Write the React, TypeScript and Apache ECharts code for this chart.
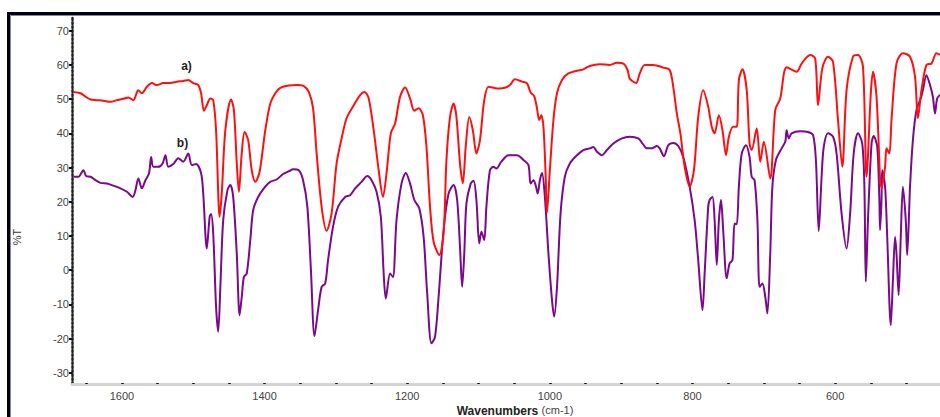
import React, { useEffect, useRef } from "react";
import * as echarts from "echarts";

// Spectrum a) (red): wavenumber (cm-1) and %T
const waveA = [
  1668, 1658, 1651, 1644, 1635, 1626, 1616, 1607, 1598, 1591, 1584, 1577, 1572, 1565, 1558, 1551, 1542, 1532, 1523, 1514,
  1507, 1500, 1493, 1489, 1485, 1481, 1476, 1472, 1468, 1463, 1460, 1455, 1447, 1443, 1439, 1436, 1432, 1428, 1423, 1418,
  1413, 1407, 1399, 1392, 1385, 1378, 1366, 1355, 1345, 1338, 1332, 1327, 1320, 1313, 1306, 1299, 1292, 1285, 1275, 1266,
  1260, 1254, 1247, 1240, 1234, 1229, 1223, 1217, 1210, 1203, 1196, 1190, 1184, 1178, 1173, 1168, 1163, 1155, 1149, 1145,
  1140, 1135, 1131, 1126, 1122, 1118, 1113, 1108, 1103, 1098, 1092, 1086, 1079, 1071, 1063, 1056, 1049, 1039, 1032, 1027,
  1022, 1018, 1015, 1012, 1009, 1006, 1004, 1000, 995, 990, 983, 974, 962, 953, 944, 930, 916, 906, 897, 891,
  888, 879, 874, 867, 855, 841, 832, 827, 822, 817, 811, 804, 798, 792, 785, 778, 773, 769, 763, 758,
  753, 749, 743, 738, 735, 730, 724, 720, 717, 710, 705, 700, 691, 684, 677, 668, 654, 647, 635, 628,
  624, 618, 610, 603, 596, 590, 584, 575, 568, 561, 556, 550, 547, 542, 535, 530, 528, 524, 521, 514,
  505, 495, 488, 484, 479, 472, 465, 458, 453,
];
const pctA = [
  52.1, 51.7, 50.7, 49.9, 49.7, 49.5, 49.2, 49.7, 50.1, 50.5, 49.7, 52.6, 51.7, 53.6, 54.7, 54.1, 54.7, 54.7, 55.1, 55.3,
  55.6, 54.7, 54.1, 51.7, 46.6, 48.2, 50.2, 49.7, 40.9, 15.6, 22.5, 40.9, 49.9, 46.8, 31.3, 22.9, 34.2, 40.4, 38.0, 29.2,
  25.8, 28.7, 40.9, 48.7, 51.7, 53.3, 54.0, 54.1, 53.8, 52.1, 47.3, 34.1, 18.5, 11.5, 16.6, 31.2, 38.5, 44.4, 48.2, 51.2,
  52.1, 50.2, 40.9, 29.2, 21.4, 28.3, 40.0, 42.9, 50.7, 53.4, 50.2, 46.6, 47.3, 45.3, 36.0, 18.5, 8.3, 4.4, 10.7, 32.2,
  44.8, 48.7, 44.8, 31.2, 25.4, 36.0, 44.8, 40.9, 34.1, 38.0, 49.7, 53.6, 53.3, 53.1, 53.3, 54.1, 55.8, 55.1, 54.6, 51.9,
  50.9, 47.3, 43.9, 45.3, 41.9, 28.3, 16.8, 29.2, 43.9, 51.7, 55.6, 57.5, 58.3, 58.7, 59.7, 60.2, 60.0, 60.6, 60.4, 58.5,
  56.0, 54.7, 57.5, 60.0, 60.0, 59.2, 58.5, 53.6, 45.8, 40.0, 30.2, 24.4, 29.2, 44.8, 52.6, 47.8, 41.9, 40.0, 45.3, 40.9,
  33.6, 39.0, 41.9, 41.9, 55.6, 58.7, 52.6, 37.0, 35.1, 41.4, 31.7, 37.5, 26.8, 46.8, 50.2, 59.3, 58.0, 60.4, 62.9, 61.9,
  48.2, 59.0, 62.4, 60.9, 43.9, 30.2, 52.6, 62.4, 62.9, 59.5, 27.3, 51.7, 58.0, 50.7, 23.9, 30.2, 35.6, 34.1, 43.9, 60.4,
  63.4, 62.4, 56.5, 44.4, 52.6, 60.0, 60.4, 63.4, 62.9,
];

// Spectrum b) (purple): wavenumber (cm-1) and %T
const waveB = [
  1668, 1661, 1654, 1650, 1644, 1637, 1630, 1621, 1612, 1602, 1593, 1585, 1581, 1577, 1572, 1567, 1562, 1559, 1556, 1549,
  1543, 1539, 1535, 1528, 1521, 1514, 1507, 1502, 1496, 1489, 1486, 1481, 1477, 1475, 1472, 1468, 1465, 1462, 1458, 1452,
  1448, 1444, 1439, 1435, 1432, 1429, 1425, 1420, 1416, 1409, 1399, 1392, 1383, 1374, 1365, 1360, 1352, 1346, 1340, 1335,
  1330, 1325, 1320, 1315, 1311, 1304, 1297, 1287, 1280, 1273, 1264, 1256, 1250, 1243, 1237, 1233, 1230, 1224, 1220, 1215,
  1208, 1202, 1196, 1190, 1183, 1177, 1172, 1166, 1161, 1156, 1149, 1142, 1135, 1130, 1126, 1123, 1120, 1117, 1111, 1107,
  1103, 1099, 1096, 1092, 1089, 1084, 1079, 1075, 1068, 1058, 1046, 1037, 1030, 1027, 1023, 1020, 1017, 1014, 1011, 1007,
  1002, 997, 994, 990, 985, 979, 972, 962, 953, 944, 939, 934, 927, 920, 911, 899, 888, 876, 870, 864,
  857, 850, 846, 840, 834, 827, 820, 813, 804, 797, 792, 786, 783, 778, 776, 772, 769, 766, 763, 760,
  757, 752, 748, 744, 741, 738, 735, 731, 725, 720, 717, 713, 709, 706, 702, 698, 695, 691, 688, 683,
  675, 670, 668, 665, 661, 649, 638, 631, 627, 623, 619, 616, 610, 603, 598, 591, 584, 579, 574, 568,
  562, 559, 557, 554, 549, 546, 541, 538, 537, 535, 534, 530, 527, 522, 519, 516, 514, 511, 508, 505,
  501, 499, 495, 491, 486, 480, 477, 472, 467, 463, 460, 457, 453,
];
const pctB = [
  27.3, 27.3, 29.2, 27.5, 27.3, 26.3, 25.5, 25.3, 24.7, 23.9, 22.9, 21.4, 23.4, 26.8, 23.9, 26.3, 28.3, 33.1, 30.2, 30.2,
  31.2, 33.6, 30.2, 31.0, 32.7, 31.7, 34.1, 30.7, 31.0, 28.3, 22.4, 6.3, 15.6, 16.4, 10.7, -10.7, -18.0, -4.9, 14.6, 23.4,
  24.9, 21.4, 4.9, -13.2, -7.8, -2.0, -1.0, 8.8, 17.5, 21.4, 24.4, 25.8, 26.5, 28.1, 29.0, 29.5, 29.2, 26.3, 18.5, 0.0,
  -19.3, -11.7, -4.9, -3.9, 2.9, 12.7, 18.5, 21.4, 21.9, 23.9, 25.8, 27.5, 26.3, 22.9, 15.6, -1.0, -8.3, -1.0, -2.0, 14.6,
  25.3, 28.4, 25.3, 20.5, 18.0, 9.7, -6.8, -21.4, -19.5, -7.8, 11.7, 22.4, 24.9, 20.5, 6.8, -4.9, 4.9, 19.5, 25.3, 26.1,
  20.5, 7.8, 11.2, 8.8, 18.5, 29.2, 30.2, 29.7, 31.7, 33.6, 33.6, 32.2, 30.7, 25.3, 26.3, 24.9, 22.4, 26.3, 28.4, 21.4,
  4.9, -8.8, -13.6, -4.9, 16.6, 27.3, 31.2, 33.6, 35.1, 35.6, 36.0, 34.6, 33.6, 35.1, 37.0, 38.5, 39.0, 38.5, 37.0, 35.6,
  35.6, 36.3, 35.6, 33.3, 36.5, 37.2, 36.3, 33.1, 24.4, 14.6, 2.9, -11.7, -1.0, 18.5, 20.5, 21.4, 14.6, 1.5, 14.6, 20.5,
  11.7, -2.4, 2.0, 2.9, 13.6, 13.4, 24.4, 34.1, 36.5, 33.1, 27.3, 26.3, 14.6, -4.9, -3.9, -7.8, -12.7, 4.9, 24.4, 32.2,
  35.6, 37.5, 40.9, 38.5, 40.0, 40.6, 40.4, 39.5, 32.2, 11.4, 27.3, 36.0, 40.0, 39.0, 34.1, 16.6, 6.3, 16.6, 34.1, 40.0,
  37.0, 24.4, -3.4, 14.6, 37.0, 39.2, 36.0, 20.5, 11.7, 20.5, 29.2, 24.4, 9.7, -16.1, -2.9, 9.7, 4.9, -7.3, 9.7, 24.4,
  14.6, 4.4, 24.4, 38.0, 46.8, 50.2, 52.6, 57.0, 54.1, 50.7, 45.8, 50.2, 51.2,
];

const xLabelValues = [1600, 1400, 1200, 1000, 800, 600];
const xTickValues = [1650, 1600, 1550, 1500, 1450, 1400, 1350, 1300, 1250, 1200, 1150, 1100, 1050, 1000, 950, 900, 850, 800, 750, 700, 650, 600, 550, 500];
const yLabelValues = [-30, -20, -10, 0, 10, 20, 30, 40, 50, 60, 70];

const FONT = "'Liberation Sans', Arial, sans-serif";

export default function App() {
  const ref = useRef<HTMLDivElement>(null);
  useEffect(() => {
    if (!ref.current) return;
    const chart = echarts.init(ref.current, null, { renderer: "svg" });
    const dataA = waveA.map((w, i) => [w, pctA[i]]);
    const dataB = waveB.map((w, i) => [w, pctB[i]]);
    chart.setOption({
      animation: false,
      backgroundColor: "#ffffff",
      grid: { left: 72, top: 16, right: 0, bottom: 33, containLabel: false },
      xAxis: {
        type: "value",
        inverse: true,
        min: 453,
        max: 1670,
        splitLine: { show: false },
        axisLine: { show: true, onZero: false, lineStyle: { color: "#d4d4d4", width: 3 } },
        axisTick: {
          show: true,
          customValues: xTickValues,
          inside: true,
          length: 1,
          lineStyle: { color: "#111", width: 2.5 },
        },
        axisLabel: {
          customValues: xLabelValues,
          formatter: (v: number) => String(v),
          margin: 6,
          color: "#444",
          fontSize: 11,
          fontFamily: FONT,
        },
      },
      yAxis: {
        type: "value",
        min: -33.3,
        max: 74.3,
        splitLine: { show: false },
        axisLine: { show: true, onZero: false, lineStyle: { color: "#222", width: 2.5, type: [2, 2] } },
        axisTick: {
          show: true,
          customValues: yLabelValues,
          length: 3,
          lineStyle: { color: "#111", width: 2 },
        },
        axisLabel: {
          customValues: yLabelValues,
          formatter: (v: number) => String(v),
          margin: 3,
          color: "#444",
          fontSize: 11,
          fontFamily: FONT,
        },
      },
      series: [
        {
          name: "a)",
          type: "line",
          data: dataA,
          smooth: 0.3,
          symbol: "none",
          lineStyle: { color: "#ff1010", width: 2 },
          z: 3,
        },
        {
          name: "b)",
          type: "line",
          data: dataB,
          smooth: 0.3,
          symbol: "none",
          lineStyle: { color: "#7a0a8a", width: 2 },
          z: 2,
        },
      ],
      graphic: [
        {
          type: "rect",
          shape: { x: 8.5, y: 13.5, width: 1000, height: 600 },
          style: { fill: "none", stroke: "#000", lineWidth: 3 },
          silent: true,
        },
        {
          type: "rect",
          shape: { x: 10.5, y: 15.5, width: 1000, height: 600 },
          style: { fill: "none", stroke: "#8080cc", lineWidth: 1 },
          silent: true,
        },
        {
          type: "text",
          x: 17,
          y: 237,
          rotation: Math.PI / 2,
          style: {
            text: "%T",
            font: `11px ${FONT}`,
            fill: "#333",
            align: "center",
            verticalAlign: "middle",
            textAlign: "center",
            textVerticalAlign: "middle",
          },
        },
        {
          type: "text",
          x: 515,
          y: 411,
          style: {
            text: "{b|Wavenumbers} {n|(cm-1)}",
            align: "center",
            verticalAlign: "middle",
            textAlign: "center",
            textVerticalAlign: "middle",
            rich: {
              b: { fontFamily: FONT, fontSize: 12, fontWeight: "bold", fill: "#222", color: "#222" },
              n: { fontFamily: FONT, fontSize: 11, fill: "#444", color: "#444", padding: [0, 0, 3, 0] },
            },
          },
        },
        {
          type: "text",
          x: 186.5,
          y: 66,
          style: {
            text: "a)",
            font: `bold 12px ${FONT}`,
            fill: "#222",
            align: "center",
            verticalAlign: "middle",
            textAlign: "center",
            textVerticalAlign: "middle",
          },
        },
        {
          type: "text",
          x: 182.5,
          y: 143,
          style: {
            text: "b)",
            font: `bold 12px ${FONT}`,
            fill: "#222",
            align: "center",
            verticalAlign: "middle",
            textAlign: "center",
            textVerticalAlign: "middle",
          },
        },
      ],
    });
    return () => chart.dispose();
  }, []);
  return (
    <div
      ref={ref}
      style={{ position: "fixed", left: 0, top: 0, width: 940, height: 417 }}
    />
  );
}
